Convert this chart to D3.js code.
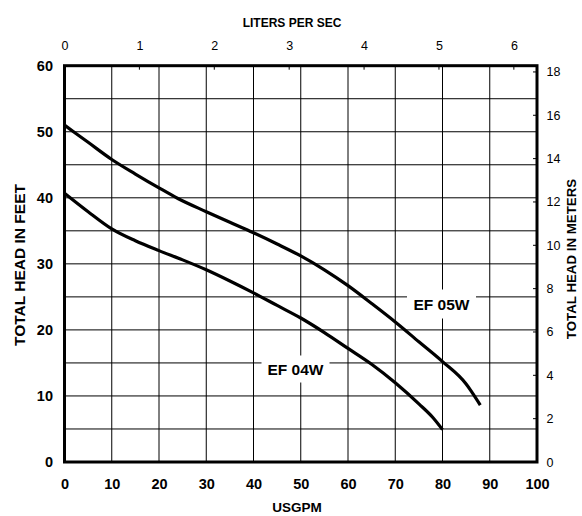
<!DOCTYPE html>
<html>
<head>
<meta charset="utf-8">
<script src="https://cdn.jsdelivr.net/npm/d3@7"></script>
<style>
  html, body { margin: 0; padding: 0; background: #fff; }
  svg { display: block; font-family: "Liberation Sans", Arial, sans-serif; }
</style>
</head>
<body>
<svg id="chart" width="582" height="516"></svg>
<script>
// Pump performance curves: flow (USGPM) vs total head (feet)
const flowTicks = [0, 10, 20, 30, 40, 50, 60, 70, 80, 90, 100];
const headTicks = [0, 10, 20, 30, 40, 50, 60];
const lpsTicks = [0, 1, 2, 3, 4, 5, 6];
const meterTicks = [0, 2, 4, 6, 8, 10, 12, 14, 16, 18];

const ef05wFlow = [0, 5, 10, 15, 20, 24, 30, 35, 40, 45, 50, 55, 60, 65, 70, 75, 80, 85, 86, 88];
const ef05wHead = [51, 48.4, 45.8, 43.6, 41.5, 39.9, 37.9, 36.3, 34.7, 33, 31.2, 29.1, 26.7, 24.0, 21.2, 18.2, 15.2, 11.8, 10.8, 8.6];

const ef04wFlow = [0, 5, 10, 15, 20, 25, 30, 35, 40, 45, 50, 55, 60, 65, 70, 75, 78, 80];
const ef04wHead = [40.7, 37.9, 35.3, 33.5, 32.0, 30.6, 29.1, 27.4, 25.6, 23.7, 21.8, 19.6, 17.2, 14.8, 12.0, 8.8, 6.7, 4.9];

const GPM_PER_LPS = 15.8503;
const FT_PER_M = 3.28084;

const svg = d3.select("#chart");
const x = d3.scaleLinear().domain([0, 100]).range([64.5, 537]);
const y = d3.scaleLinear().domain([0, 60]).range([462, 65.7]);
const xLps = d3.scaleLinear().domain([0, 100 / GPM_PER_LPS]).range(x.range());
const yM = d3.scaleLinear().domain([0, 60 / FT_PER_M]).range(y.range());

// grid
const grid = svg.append("g").attr("stroke", "#000").attr("stroke-width", 1);
grid.selectAll("line.v").data(flowTicks.slice(1, -1)).join("line")
  .attr("x1", d => x(d)).attr("x2", d => x(d))
  .attr("y1", y(60)).attr("y2", y(0));
grid.selectAll("line.h").data(d3.range(5, 60, 5)).join("line")
  .attr("x1", x(0)).attr("x2", x(100))
  .attr("y1", d => y(d)).attr("y2", d => y(d));

// top liters/sec ticks (inside)
svg.append("g").selectAll("line").data(lpsTicks.slice(1)).join("line")
  .attr("x1", d => xLps(d)).attr("x2", d => xLps(d))
  .attr("y1", y(60)).attr("y2", y(60) + 4)
  .attr("stroke", "#000").attr("stroke-width", 1);
// right meter ticks (inside)
svg.append("g").selectAll("line").data(meterTicks.slice(1)).join("line")
  .attr("x1", x(100) - 4).attr("x2", x(100))
  .attr("y1", d => yM(d)).attr("y2", d => yM(d))
  .attr("stroke", "#000").attr("stroke-width", 1);

// curve labels with white backing
function curveLabel(text, cx, cy, w, h) {
  svg.append("rect").attr("x", cx - w / 2).attr("y", cy - h / 2)
    .attr("width", w).attr("height", h).attr("fill", "#fff");
  svg.append("text").attr("x", cx).attr("y", cy).attr("dy", "0.36em")
    .attr("text-anchor", "middle").attr("font-weight", "bold")
    .attr("font-size", "15.5px").text(text);
}
curveLabel("EF 05W", 441.5, 304, 69, 29);
curveLabel("EF 04W", 295.5, 369, 68, 27);

// curves
const line = d3.line().x(d => x(d[0])).y(d => y(d[1])).curve(d3.curveMonotoneX);
[[ef05wFlow, ef05wHead], [ef04wFlow, ef04wHead]].forEach(([f, h]) => {
  svg.append("path").datum(f.map((v, i) => [v, h[i]]))
    .attr("d", line).attr("fill", "none")
    .attr("stroke", "#000").attr("stroke-width", 3.2)
    .attr("stroke-linejoin", "round");
});

// frame
svg.append("rect").attr("x", x(0)).attr("y", y(60))
  .attr("width", x(100) - x(0)).attr("height", y(0) - y(60))
  .attr("fill", "none").attr("stroke", "#000").attr("stroke-width", 3);

// axis labels
function styleAxis(g, size, weight) {
  g.select(".domain").remove();
  g.selectAll("text").attr("font-size", size).attr("font-weight", weight)
    .attr("font-family", "Liberation Sans, Arial, sans-serif").attr("fill", "#000");
}

const axisB = svg.append("g").attr("transform", `translate(0,${y(0)})`)
  .call(d3.axisBottom(x).tickValues(flowTicks).tickSize(0).tickPadding(17));
styleAxis(axisB, "14.5px", "bold");

const axisL = svg.append("g").attr("transform", `translate(${x(0)},0)`)
  .call(d3.axisLeft(y).tickValues(headTicks).tickSize(0).tickPadding(11.5));
styleAxis(axisL, "14.5px", "bold");

const axisT = svg.append("g").attr("transform", `translate(0,${y(60)})`)
  .call(d3.axisTop(xLps).tickValues(lpsTicks).tickSize(0).tickFormat(d3.format("d")).tickPadding(15.5));
styleAxis(axisT, "12.5px", "normal");

const axisR = svg.append("g").attr("transform", `translate(${x(100)},0)`)
  .call(d3.axisRight(yM).tickValues(meterTicks).tickSize(0).tickPadding(9.5));
styleAxis(axisR, "12.5px", "normal");

// titles
svg.append("text").attr("x", 297).attr("y", 507).attr("dy", "0.36em")
  .attr("text-anchor", "middle").attr("font-weight", "bold").attr("font-size", "13.5px")
  .text("USGPM");
svg.append("text").attr("x", 292).attr("y", 22.5).attr("dy", "0.36em")
  .attr("text-anchor", "middle").attr("font-weight", "bold").attr("font-size", "12px")
  .text("LITERS PER SEC");
svg.append("text").attr("transform", "translate(19,265) rotate(-90)").attr("dy", "0.36em")
  .attr("text-anchor", "middle").attr("font-weight", "bold").attr("font-size", "15.5px")
  .text("TOTAL HEAD IN FEET");
svg.append("text").attr("transform", "translate(571,259) rotate(-90)").attr("dy", "0.36em")
  .attr("text-anchor", "middle").attr("font-weight", "bold").attr("font-size", "13.3px")
  .text("TOTAL HEAD IN METERS");
</script>
</body>
</html>
